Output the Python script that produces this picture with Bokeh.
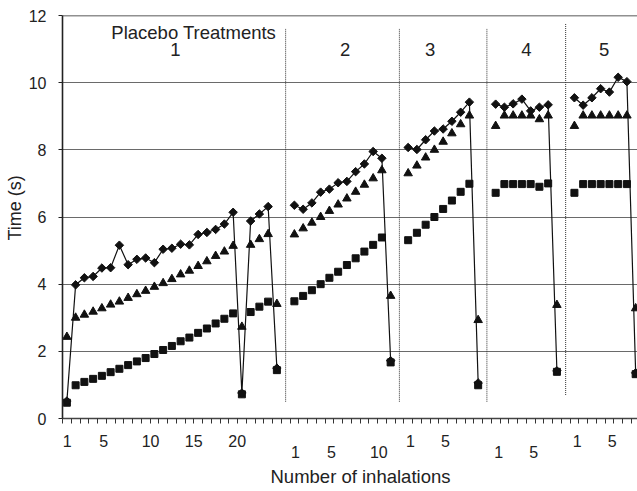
import math
from bokeh.plotting import figure
from bokeh.models import Range1d, FixedTicker, LinearAxis, Title, Span
from bokeh.embed import file_html
from bokeh.resources import INLINE
from bokeh.core.properties import value

# ---------------- data ----------------
treatments = ["1", "2", "3", "4", "5"]

diamond_seg1 = [0.52, 3.98, 4.19, 4.23, 4.48, 4.49, 5.16, 4.58, 4.74, 4.78, 4.64, 5.04, 5.07,
                5.19, 5.17, 5.48, 5.54, 5.63, 5.79, 6.14, 0.76, 5.88, 6.09, 6.31, 1.50]
triangle_seg1 = [2.43, 3.00, 3.09, 3.18, 3.28, 3.39, 3.48, 3.59, 3.70, 3.80, 3.92, 4.03, 4.15,
                 4.29, 4.40, 4.54, 4.68, 4.84, 4.97, 5.14, 2.73, 5.17, 5.34, 5.49, 3.41]
square_seg1 = [0.47, 0.99, 1.09, 1.18, 1.27, 1.38, 1.48, 1.59, 1.70, 1.80, 1.92, 2.04, 2.16,
               2.30, 2.41, 2.55, 2.68, 2.83, 2.97, 3.13, 0.72, 3.17, 3.33, 3.48, 1.44]

diamond_seg2 = [6.35, 6.23, 6.42, 6.74, 6.83, 7.02, 7.06, 7.35, 7.58, 7.95, 7.75, 1.72]
triangle_seg2 = [5.48, 5.66, 5.83, 6.00, 6.18, 6.37, 6.55, 6.75, 6.96, 7.15, 7.39, 3.65]
square_seg2 = [3.49, 3.65, 3.82, 4.00, 4.19, 4.37, 4.57, 4.77, 4.97, 5.17, 5.39, 1.67]

diamond_seg3 = [8.07, 8.01, 8.30, 8.56, 8.62, 8.85, 9.12, 9.42, 1.06]
triangle_seg3 = [7.30, 7.53, 7.77, 8.00, 8.24, 8.49, 8.76, 9.02, 2.93]
square_seg3 = [5.31, 5.53, 5.77, 6.00, 6.24, 6.49, 6.75, 6.99, 0.99]

diamond_seg4 = [9.36, 9.27, 9.37, 9.51, 9.16, 9.27, 9.34, 1.42]
triangle_seg4 = [8.71, 9.02, 9.02, 9.02, 9.02, 8.91, 9.02, 3.38]
square_seg4 = [6.72, 6.98, 6.98, 6.98, 6.98, 6.90, 7.00, 1.39]

diamond_seg5 = [9.55, 9.33, 9.55, 9.82, 9.72, 10.16, 10.03, 1.36]
triangle_seg5 = [8.71, 9.02, 9.02, 9.02, 9.02, 9.02, 9.02, 3.28]
square_seg5 = [6.72, 6.98, 6.98, 6.98, 6.98, 6.98, 6.98, 1.32]

row1_labels = ["1", "5", "10", "15", "20", "1", "5", "1", "5"]
row2_labels = ["1", "5", "10", "1", "5"]
y_ticks = [0, 2, 4, 6, 8, 10, 12]


def join(segs):
    out = []
    for i, s in enumerate(segs):
        if i > 0:
            out.append(float("nan"))
        out.extend(s)
    return out


diamond = join([diamond_seg1, diamond_seg2, diamond_seg3, diamond_seg4, diamond_seg5])
triangle = join([triangle_seg1, triangle_seg2, triangle_seg3, triangle_seg4, triangle_seg5])
square = join([square_seg1, square_seg2, square_seg3, square_seg4, square_seg5])
xs = list(range(1, len(diamond) + 1))
gap_x = [x for x, v in zip(xs, diamond) if math.isnan(v)]

# ---------------- layout constants ----------------
FONT = "Liberation Sans"
row1_pos = [1.04, 5.22, 10.56, 15.5, 20.47, 40.27, 44.27, 59.32, 63.32]
row2_pos = [27.13, 31.24, 36.65, 50.36, 54.36]
label_x = [13.4, 32.8, 42.5, 53.5, 62.4]

p = figure(frame_width=575, frame_height=403,
           x_range=Range1d(0.5, 66.21), y_range=Range1d(0, 12),
           output_backend="svg", toolbar_location=None,
           min_border_left=62, min_border_right=0, min_border_top=15, min_border_bottom=0)
p.outline_line_color = None
p.background_fill_color = "white"
p.border_fill_color = "white"

# grid
p.xgrid.visible = False
p.ygrid.ticker = FixedTicker(ticks=[2, 4, 6, 8, 10])
p.ygrid.grid_line_color = "#6a6a6a"
p.ygrid.grid_line_width = 1
p.add_layout(Span(location=12, dimension="width", line_color="#222", line_width=1.6))

# y axis
ya = p.yaxis[0]
ya.ticker = FixedTicker(ticks=y_ticks)
ya.axis_line_color = "#222"
ya.axis_line_width = 1.6
ya.major_tick_out = 4
ya.major_tick_in = 0
ya.major_tick_line_color = "#222"
ya.minor_tick_line_color = None
ya.major_label_standoff = 12
ya.major_label_text_font = FONT
ya.major_label_text_font_size = "16px"
ya.major_label_text_color = "#222"

# x axis (row 1 of labels + category tick marks)
xa = p.xaxis[0]
xa.ticker = FixedTicker(ticks=row1_pos, minor_ticks=[k + 0.5 for k in range(len(xs) + 1)])
xa.major_label_overrides = {pos: lab for pos, lab in zip(row1_pos, row1_labels)}
xa.major_tick_out = 0
xa.major_tick_in = 0
xa.minor_tick_out = 5
xa.minor_tick_in = 0
xa.minor_tick_line_color = "#333"
xa.axis_line_color = "#444"
xa.axis_line_width = 1.6
xa.major_label_standoff = 11
xa.major_label_text_font = FONT
xa.major_label_text_font_size = "16px"
xa.major_label_text_color = "#222"

# second row of labels
xa2 = LinearAxis(ticker=FixedTicker(ticks=row2_pos))
xa2.major_label_overrides = {pos: lab for pos, lab in zip(row2_pos, row2_labels)}
xa2.axis_line_color = None
xa2.major_tick_line_color = None
xa2.minor_tick_line_color = None
xa2.major_tick_out = 0
xa2.major_tick_in = 0
xa2.major_label_standoff = -4
xa2.major_label_text_font = FONT
xa2.major_label_text_font_size = "16px"
xa2.major_label_text_color = "#222"
p.add_layout(xa2, "below")

p.add_layout(Title(text="Number of inhalations", align="left", offset=208,
                   text_font=FONT, text_font_size="18.5px", text_font_style="normal",
                   text_color="#222", standoff=7), "below")
p.add_layout(Title(text="Time (s)", align="left", offset=178,
                   text_font=FONT, text_font_size="18px", text_font_style="normal",
                   text_color="#222", standoff=2), "left")

# separators
p.segment(x0=gap_x, x1=gap_x, y0=[0.5, 0.5, 0.5, 0.7], y1=[11.6, 11.6, 11.6, 11.75],
          line_color="#333", line_width=1, line_dash="1 1")

# segment labels
p.text(x=[15.5], y=[11.48], text=["Placebo Treatments"], text_align="center",
       text_baseline="middle", text_font=value(FONT), text_font_size="18.5px", text_color="#222")
p.text(x=label_x, y=[11.0] * len(label_x), text=treatments, text_align="center",
       text_baseline="middle", text_font=value(FONT), text_font_size="18.5px", text_color="#222")

# series
p.line(xs, diamond, line_color="#111", line_width=1.2)
p.scatter(xs, square, marker="square", size=7, color="#111")
p.scatter(xs, triangle, marker="triangle", size=8.5, color="#111")
p.scatter(xs, diamond, marker="square", angle=math.pi / 4, size=6, color="#111")

open("out.html", "w").write(file_html(p, INLINE))
